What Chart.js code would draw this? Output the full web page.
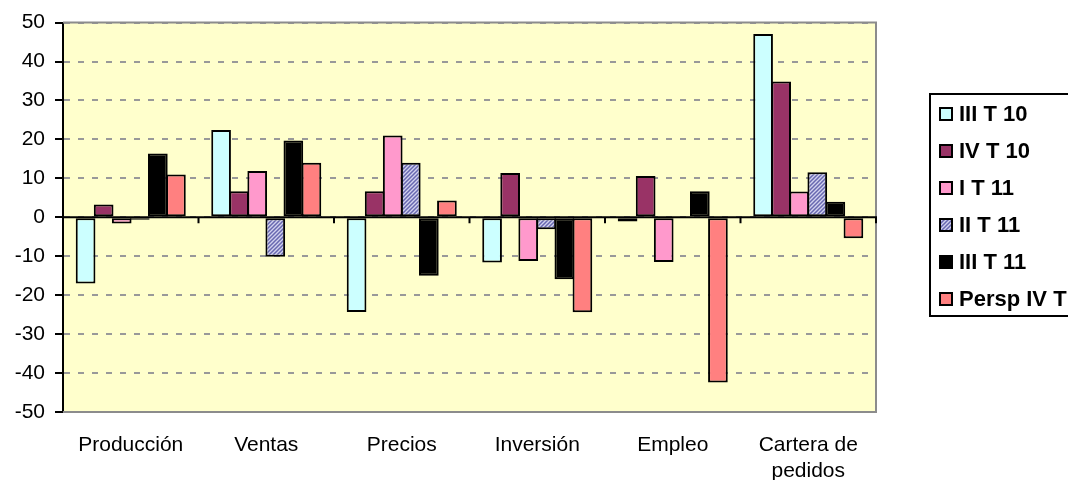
<!DOCTYPE html>
<html lang="es">
<head>
<meta charset="UTF-8">
<title>Encuesta de coyuntura</title>
<script src="https://cdn.jsdelivr.net/npm/chart.js"></script>
<style>
    body { margin: 0; background: #fff; }
    canvas { display: block; }
</style>
</head>
<body>
<canvas id="barChart" width="1068" height="480"></canvas>
<script>
    // categorias y series
    const categories = ['Producción', 'Ventas', 'Precios', 'Inversión', 'Empleo', ['Cartera de', 'pedidos']];
    const seriesNames = ['III T 10', 'IV T 10', 'I T 11', 'II T 11', 'III T 11', 'Persp IV T 11'];
    const iiiT10 = [-17.0, 22.4, -24.3, -11.6, -1.1, 47.1];
    const ivT10 = [3.3, 6.7, 6.7, 11.4, 10.6, 34.9];
    const iT11 = [-1.6, 11.9, 21.0, -11.2, -11.5, 6.6];
    const iiT11 = [-0.6, -10.1, 14.0, -3.1, 0, 11.6];
    const iiiT11 = [16.4, 19.7, -15.0, -15.9, 6.7, 4.0];
    const perspIvT11 = [11.0, 14.0, 4.3, -24.4, -42.4, -5.4];
    const yMin = -50, yMax = 50, yStep = 10;

    const FONT = 'Arial, "Liberation Sans", sans-serif';

    // trama rayada para II T 11
    function makeHatch() {
        const c = document.createElement('canvas');
        c.width = 4; c.height = 4;
        const g = c.getContext('2d');
        g.fillStyle = '#d2d2ee';
        g.fillRect(0, 0, 4, 4);
        g.strokeStyle = '#6868b0';
        g.lineWidth = 1.5;
        g.beginPath();
        g.moveTo(0, 4); g.lineTo(4, 0);
        g.moveTo(-1, 1); g.lineTo(1, -1);
        g.moveTo(3, 5); g.lineTo(5, 3);
        g.stroke();
        return g.createPattern(c, 'repeat');
    }
    const hatch = makeHatch();

    const fills = ['#CCFFFF', '#993366', '#FF99CC', hatch, '#000000', '#FF8080'];
    const values = [iiiT10, ivT10, iT11, iiT11, iiiT11, perspIvT11];

    const plotDecor = {
        id: 'plotDecor',
        beforeDraw(chart) {
            const { ctx, chartArea: a } = chart;
            ctx.save();
            ctx.fillStyle = '#FFFFCC';
            ctx.fillRect(a.left, a.top, a.right - a.left, a.bottom - a.top);
            ctx.restore();
        },
        beforeDatasetsDraw(chart) {
            const { ctx, chartArea: a } = chart;
            ctx.save();
            ctx.strokeStyle = '#8c8c8c';
            ctx.lineWidth = 2;
            ctx.beginPath();
            ctx.moveTo(a.left, a.top);
            ctx.lineTo(a.right, a.top);
            ctx.lineTo(a.right, a.bottom);
            ctx.lineTo(a.left, a.bottom);
            ctx.stroke();
            ctx.restore();
        },
        afterDatasetsDraw(chart) {
            const { ctx, chartArea: a } = chart;
            const y0 = chart.scales.y.getPixelForValue(0);
            const n = categories.length;
            const w = (a.right - a.left) / n;
            ctx.save();
            ctx.strokeStyle = '#000';
            ctx.lineWidth = 2;
            ctx.beginPath();
            ctx.moveTo(a.left, y0);
            ctx.lineTo(a.right + 1, y0);
            for (let i = 1; i <= n; i++) {
                const x = a.left + i * w;
                ctx.moveTo(x, y0);
                ctx.lineTo(x, y0 + 6);
            }
            ctx.stroke();
            ctx.restore();
        },
        afterDraw(chart) {
            // leyenda con recuadro, como la del original
            const ctx = chart.ctx;
            ctx.save();
            ctx.strokeStyle = '#000';
            ctx.lineWidth = 2;
            ctx.strokeRect(930, 94, 200, 222);
            ctx.font = 'bold 22px ' + FONT;
            ctx.textBaseline = 'middle';
            seriesNames.forEach((name, i) => {
                const y = 114 + i * 37;
                ctx.fillStyle = fills[i];
                ctx.fillRect(940, y - 6, 12, 12);
                ctx.lineWidth = 2;
                ctx.strokeStyle = '#000';
                ctx.strokeRect(940, y - 6, 12, 12);
                ctx.fillStyle = '#000';
                ctx.fillText(name, 959, y + 1);
            });
            ctx.restore();
        }
    };

    new Chart(document.getElementById('barChart'), {
        type: 'bar',
        data: {
            labels: categories,
            datasets: seriesNames.map((name, i) => ({
                label: name,
                data: values[i],
                backgroundColor: fills[i],
                borderColor: '#000',
                borderWidth: 2,
                borderSkipped: false,
                categoryPercentage: 0.8,
                barPercentage: 1.09
            }))
        },
        options: {
            responsive: false,
            animation: false,
            layout: { padding: { top: 22, right: 192, bottom: 0, left: 0 } },
            plugins: {
                legend: { display: false },
                tooltip: { enabled: false }
            },
            scales: {
                x: {
                    grid: { display: false },
                    border: { display: false },
                    ticks: {
                        color: '#000',
                        font: { family: FONT, size: 21, lineHeight: 1.25 },
                        padding: 12,
                        maxRotation: 0,
                        autoSkip: false
                    },
                    afterFit(scale) { scale.height = 68; }
                },
                y: {
                    min: yMin,
                    max: yMax,
                    ticks: {
                        stepSize: yStep,
                        color: '#000',
                        font: { family: FONT, size: 21 },
                        padding: 10
                    },
                    grid: {
                        color: '#999',
                        lineWidth: 2,
                        tickColor: '#000',
                        tickLength: 8,
                        tickWidth: 2
                    },
                    border: { color: '#000', width: 2, dash: [6, 8] },
                    afterFit(scale) { scale.width = 63; }
                }
            }
        },
        plugins: [plotDecor]
    });
</script>
</body>
</html>
